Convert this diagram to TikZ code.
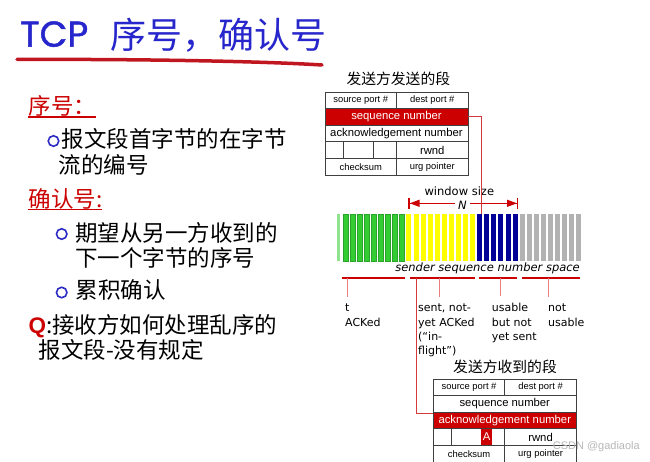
\documentclass[tikz,border=0pt]{standalone}
\usepackage{fontspec}
\setmainfont{DejaVu Sans}
\newfontfamily\cjk{Noto Sans CJK SC}
\newfontfamily\arialf{Liberation Sans}
\newfontfamily\titlef[FakeBold=1.2]{Poppins}

\usetikzlibrary{
    positioning,
    arrows.meta
}

\definecolor{titleblue}{RGB}{38,38,204}
\definecolor{txtred}{RGB}{204,0,0}
\definecolor{hlred}{RGB}{204,0,0}
\definecolor{linered}{RGB}{212,58,58}
\definecolor{tickred}{RGB}{232,125,125}
\definecolor{brushred}{RGB}{192,22,32}
\definecolor{bulletblue}{RGB}{44,44,196}
\definecolor{bargreen}{RGB}{51,204,51}
\definecolor{baryellow}{RGB}{255,255,0}
\definecolor{barblue}{RGB}{0,0,153}
\definecolor{bargray}{RGB}{178,178,178}

\begin{document}
\begin{tikzpicture}
[
    x=1pt,
    y=-1pt,
    cell/.style={
        rectangle,
        draw=black!75,
        line width=0.9pt,
        inner sep=0pt,
        outer sep=0pt,
        minimum height=16.6pt,
        font=\arialf\fontsize{9.4}{10}\selectfont
    },
    bigcell/.style={
        cell,
        font=\arialf\fontsize{11.3}{12}\selectfont
    },
    hlcell/.style={
        bigcell,
        fill=hlred,
        text=white
    },
    body/.style={
        anchor=base west,
        inner sep=0pt,
        font=\cjk\fontsize{22.5}{27}\selectfont
    },
    head/.style={
        body,
        text=txtred
    },
    bullet/.style={
        circle,
        draw=bulletblue,
        line width=1.6pt,
        minimum size=10.5pt,
        inner sep=0pt
    },
    segtitle/.style={
        anchor=base,
        inner sep=0pt,
        font=\cjk\fontsize{14.8}{16}\selectfont
    },
    lbl/.style={
        anchor=north west,
        inner sep=0pt,
        align=left,
        font=\fontsize{11}{14.3}\selectfont
    },
    brace/.style={
        draw=hlred,
        line width=2pt
    },
    tick/.style={
        draw=tickred,
        line width=0.9pt,
        shorten >=7pt
    },
    conn/.style={
        draw=linered,
        line width=0.9pt
    },
    winarrow/.style={
        draw=hlred,
        line width=1.3pt,
        -{Triangle[length=10pt,width=7pt] Bar[width=11pt]}
    }
]

\useasboundingbox (0,0) rectangle (650,462);
\fill[white] (0,0) rectangle (650,462);


% =====================
% TITLE
% =====================

\node[
anchor=base west,
inner sep=0pt,
text=titleblue,
font=\titlef\fontsize{36}{40}\selectfont
]
(tcp)
at (20,46.7)
{TCP};

\node[
anchor=base west,
inner sep=0pt,
text=titleblue,
font=\cjk\fontsize{36}{40}\selectfont
]
(title)
at (110,49)
{序号，确认号};

\draw[brushred, line width=3.5pt, line cap=round]
(17,59.5) .. controls (110,59) and (250,60.5) .. (322,65);


% =====================
% LEFT TEXT
% =====================

\node[head] (seqhead) at (28.3,115) {序号：};
\draw[txtred, line width=1.5pt]
([yshift=-1.8pt]seqhead.base west) -- ([yshift=-1.8pt]seqhead.base east);

\node[bullet] (b1) at (53.5,141) {};
\node[body] (s1) at (61.7,148) {报文段首字节的在字节};
\node[body] (s2) at (58.5,174) {流的编号};

\node[head] (ackhead) at (28.3,207.5) {确认号:};
\draw[txtred, line width=1pt]
([yshift=-1.6pt]ackhead.base west) -- ([yshift=-1.6pt]ackhead.base east);

\node[bullet] (b2) at (61.7,234) {};
\node[body] (a1) at (75,242) {期望从另一方收到的};
\node[body] (a2) at (75,266) {下一个字节的序号};

\node[bullet] (b3) at (61.7,292.5) {};
\node[body] (a3) at (75.5,298.5) {累积确认};

\node[body] (q1) at (28.3,333)
{\textcolor{txtred}{\arialf\bfseries Q}:接收方如何处理乱序的};
\node[body] (q2) at (38.3,358.5) {报文段-没有规定};


% =====================
% SENT SEGMENT
% =====================

\node[segtitle] (senttitle) at (398.3,85) {发送方发送的段};

\node[
cell,
minimum width=71.5pt,
anchor=north west
]
(ssrc)
at (325,92)
{source port \#};

\node[cell, minimum width=71.5pt, right=0pt of ssrc] (sdst) {dest port \#};

\node[
hlcell,
minimum width=143pt,
below=0pt of ssrc.south west,
anchor=north west
]
(sseq)
{sequence number};

\node[
bigcell,
minimum width=143pt,
below=0pt of sseq
]
(sack)
{acknowledgement number};

\node[
cell,
minimum width=18pt,
below=0pt of sack.south west,
anchor=north west
]
(sc1)
{};
\node[cell, minimum width=30pt, right=0pt of sc1] (sc2) {};
\node[cell, minimum width=23.5pt, right=0pt of sc2] (sc3) {};
\node[bigcell, minimum width=71.5pt, right=0pt of sc3] (srwnd) {rwnd};

\node[
cell,
minimum width=71.5pt,
below=0pt of sc1.south west,
anchor=north west
]
(scsum)
{checksum};
\node[cell, minimum width=71.5pt, right=0pt of scsum] (surg) {urg pointer};


% =====================
% SEQUENCE NUMBER SPACE
% =====================

\fill[bargreen!55] (337,214) rectangle ++(2.5,47);
\foreach \i in {0,...,8}
    \filldraw[fill=bargreen, draw=bargreen!80!black, line width=0.4pt]
    (342.7+7.08*\i,214) rectangle ++(5,47);
\foreach \i in {9,...,18}
    \fill[baryellow] (342.7+7.08*\i,214) rectangle ++(5,47);
\foreach \i in {19,...,24}
    \fill[barblue] (342.7+7.08*\i,214) rectangle ++(5,47);
\foreach \i in {25,...,33}
    \fill[bargray] (342.7+7.08*\i,214) rectangle ++(5,47);

\node[
anchor=base,
inner sep=0pt,
font=\fontsize{11.5}{12}\selectfont
]
(wsize)
at (459.3,195.5)
{window size};

\node[
anchor=base,
font=\fontsize{11.5}{12}\selectfont\itshape
]
(wn)
at (462.5,209.3)
{N};

\coordinate (wl) at (408.3,203.3);
\coordinate (wr) at (518.3,203.3);
\draw[winarrow] (wl -| wn.west) -- (wl);
\draw[winarrow] (wr -| wn.east) -- (wr);

\coordinate (bartop) at (481.7,214);
\draw[conn] (sseq.east) -| (bartop);

\node[
anchor=base east,
inner sep=0pt,
font=\fontsize{11.5}{12}\selectfont\itshape
]
(space)
at (580,272)
{sender sequence number space};


% =====================
% BRACES AND LABELS
% =====================

\coordinate (ba1) at (341.7,277.7);
\coordinate (ba2) at (405,277.7);
\coordinate (bb1) at (410,277.7);
\coordinate (bb2) at (475,277.7);
\coordinate (bc1) at (479,277.7);
\coordinate (bc2) at (517,277.7);
\coordinate (bd1) at (521.7,277.7);
\coordinate (bd2) at (580,277.7);

\draw[brace] (ba1) -- (ba2);
\draw[brace] (bb1) -- (bb2);
\draw[brace] (bc1) -- (bc2);
\draw[brace] (bd1) -- (bd2);

\node[lbl] (acked) at (345,303.8) {t\\ACKed};
\node[lbl] (inflight) at (418,303.8) {sent, not-\\yet ACKed\\(“in-\\flight”)};
\node[lbl] (usable) at (491.7,303.3) {usable\\but not\\yet sent};
\node[lbl] (notusable) at (548,303.8) {not\\usable};

\coordinate (k1) at (347.3,277.7);
\coordinate (k2) at (439,277.7);
\coordinate (k3) at (500,277.7);
\coordinate (k4) at (548,277.7);
\coordinate (k5) at (416,277.7);

\draw[tick] (k1) -- (k1 |- acked.north);
\draw[tick] (k2) -- (k2 |- inflight.north);
\draw[tick] (k3) -- (k3 |- usable.north);
\draw[tick] (k4) -- (k4 |- notusable.north);


% =====================
% RECEIVED SEGMENT
% =====================

\node[segtitle] (recvtitle) at (505,372.5) {发送方收到的段};

\node[
cell,
minimum width=71.5pt,
anchor=north west
]
(rsrc)
at (433.3,379)
{source port \#};

\node[cell, minimum width=71.5pt, right=0pt of rsrc] (rdst) {dest port \#};

\node[
bigcell,
minimum width=143pt,
below=0pt of rsrc.south west,
anchor=north west
]
(rseq)
{sequence number};

\node[
hlcell,
minimum width=143pt,
below=0pt of rseq
]
(rack)
{acknowledgement number};

\node[
cell,
minimum width=18pt,
below=0pt of rack.south west,
anchor=north west
]
(rc1)
{};
\node[cell, minimum width=30pt, right=0pt of rc1] (rc2) {};
\node[cell, minimum width=23.5pt, right=0pt of rc2] (rc3) {};
\node[bigcell, minimum width=71.5pt, right=0pt of rc3] (rrwnd) {rwnd};

\node[
hlcell,
draw=none,
minimum width=10.7pt,
minimum height=15.6pt,
anchor=west
]
(ra)
at (rc3.west)
{A};

\node[
cell,
minimum width=71.5pt,
below=0pt of rc1.south west,
anchor=north west
]
(rcsum)
{checksum};
\node[cell, minimum width=71.5pt, right=0pt of rcsum] (rurg) {urg pointer};

\draw[conn] (k5) |- ([yshift=-1pt]rack.north west);

\node[
anchor=base east,
inner sep=0pt,
text=black!28,
font=\arialf\fontsize{11}{12}\selectfont
]
(wm)
at (640,449.5)
{CSDN @gadiaola};

\end{tikzpicture}
\end{document}
